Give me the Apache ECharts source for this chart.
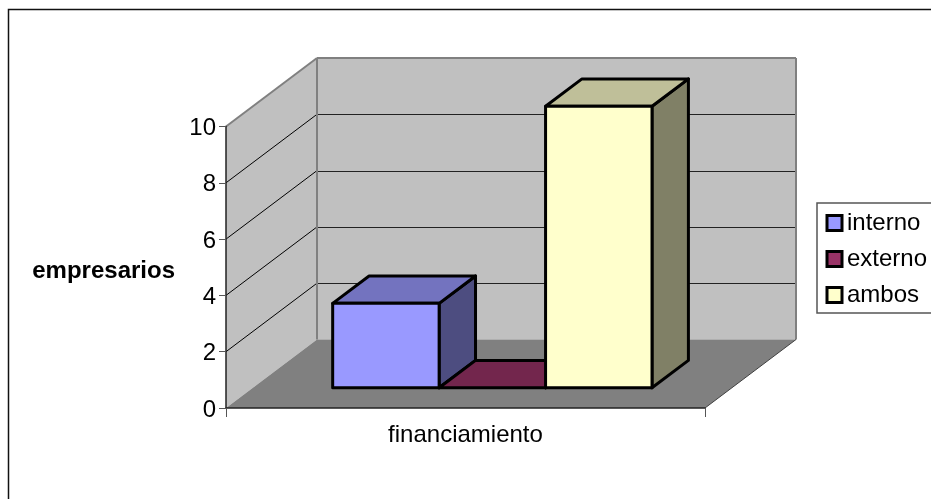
<!DOCTYPE html>
<html lang="en">
<head>
    <meta charset="UTF-8">
    <script src="https://cdn.jsdelivr.net/npm/echarts@6/dist/echarts.min.js"></script>
    <title>financiamiento</title>
</head>
<style>
    body{
        margin: 0;
        padding: 0;
        background: #fff;
        overflow: hidden;
    }
</style>
<body>
<div id="chart" style="width: 931px;height:499px"></div>
</body>
<script>
    var categories = ['financiamiento'];
    var seriesNames = ['interno', 'externo', 'ambos'];
    var interno = [3];
    var externo = [0];
    var ambos = [10];
    var yTicks = [0, 2, 4, 6, 8, 10];

    // offsets of the fake 3d box, in pixels
    var DEPTH = [91, -68.5];
    var BAR_FRONT = 0.295;   // where the bar front sits inside the depth
    var BAR_DEPTH = 0.40;
    var BAR_BAND = 1 / 4.5;

    var faces = {
        interno: {front: '#9999ff', top: '#7373bf', side: '#4d4d80'},
        externo: {front: '#993366', top: '#73264d', side: '#4d1a33'},
        ambos: {front: '#ffffcc', top: '#bfbf99', side: '#808066'}
    };

    function poly(points, fill, stroke, lineWidth) {
        return {
            type: 'polygon',
            shape: {points: points},
            style: {fill: fill, stroke: stroke || null, lineWidth: lineWidth || 0, lineJoin: 'round'}
        };
    }

    function line(a, b, color, width) {
        return {
            type: 'line',
            shape: {x1: a[0], y1: a[1], x2: b[0], y2: b[1]},
            style: {stroke: color, lineWidth: width}
        };
    }

    function shift(p, k) {
        return [p[0] + DEPTH[0] * k, p[1] + DEPTH[1] * k];
    }

    // walls, floor and grid lines
    function renderWalls(params, api) {
        var band = api.size([1, 0])[0];
        var c = api.coord([0, 0]);
        var x0 = c[0] - band / 2;
        var x1 = c[0] + band / 2;
        var top = api.coord([0, yTicks[yTicks.length - 1]])[1];
        var fl = [x0, c[1]], fr = [x1, c[1]], tl = [x0, top];
        var backTop = shift(tl, 1);
        var backRight = [backTop[0] + band, backTop[1]];
        var children = [
            poly([fl, tl, backTop, shift(fl, 1)], '#c0c0c0'),
            poly([shift(fl, 1), backTop, backRight, shift(fr, 1)], '#c0c0c0'),
            poly([fl, fr, shift(fr, 1), shift(fl, 1)], '#808080')
        ];
        for (var i = 1; i < yTicks.length - 1; i++) {
            var y = api.coord([0, yTicks[i]])[1];
            var back = shift([x0, y], 1);
            children.push(line([x0, y], back, '#000', 1));
            // keep the back wall lines on a whole pixel
            var by = Math.round(back[1]) + 0.5;
            children.push(line([back[0], by], [back[0] + band, by], '#222', 1));
        }
        children.push(line(tl, backTop, '#808080', 2));
        children.push(line(backTop, backRight, '#808080', 2));
        children.push(line(backTop, shift(fl, 1), '#808080', 2));
        children.push(line(backRight, shift(fr, 1), '#808080', 2));
        children.push(line(fr, shift(fr, 1), '#404040', 1));
        return {type: 'group', children: children};
    }

    function renderBar(index, name) {
        return function (params, api) {
            var band = api.size([1, 0])[0];
            var c = api.coord([api.value(0), 0]);
            var t = api.coord([api.value(0), api.value(1)]);
            var w = band * BAR_BAND;
            var left = c[0] - w * 1.5 + w * index;
            var a = shift([left, c[1]], BAR_FRONT);
            var b = shift([left + w, c[1]], BAR_FRONT);
            var d = shift([left + w, t[1]], BAR_FRONT);
            var e = shift([left, t[1]], BAR_FRONT);
            var f = faces[name];
            var kids = [
                poly([b, d, shift(d, BAR_DEPTH), shift(b, BAR_DEPTH)], f.side, '#000', 3),
                poly([e, d, shift(d, BAR_DEPTH), shift(e, BAR_DEPTH)], f.top, '#000', 3)
            ];
            if (api.value(1) > 0) {
                kids.push(poly([a, b, d, e], f.front, '#000', 3));
            }
            return {type: 'group', children: kids};
        };
    }

    function barSeries(name, index, values) {
        return {
            name: name,
            type: 'custom',
            z: 3 + index,
            itemStyle: {color: faces[name].front},
            renderItem: renderBar(index, name),
            data: values.map(function (v, i) { return [i, v]; }),
            encode: {x: 0, y: 1}
        };
    }

    var chart = echarts.init(document.getElementById('chart'));
    var font = 'Liberation Sans';
    var option = {
        animation: false,
        graphic: [{
            type: 'rect',
            shape: {x: 8.5, y: 9.5, width: 940, height: 510},
            style: {fill: null, stroke: '#111', lineWidth: 1.5}
        }],
        grid: {left: 226, top: 126.5, width: 479, height: 281.5, outerBoundsMode: 'none'},
        legend: {
            data: seriesNames,
            orient: 'vertical',
            left: 817,
            top: 203,
            padding: [8, 40, 6, 8.5],
            itemGap: 12,
            itemWidth: 15,
            itemHeight: 15,
            icon: 'rect',
            itemStyle: {borderColor: '#000', borderWidth: 3},
            borderColor: '#555',
            borderWidth: 1.5,
            textStyle: {fontFamily: font, fontSize: 24, color: '#000'}
        },
        xAxis: {
            type: 'category',
            data: categories,
            z: 6,
            axisLine: {lineStyle: {color: '#222', width: 1.5}},
            axisTick: {show: true, length: 9, lineStyle: {color: '#555', width: 1}},
            axisLabel: {fontFamily: font, fontSize: 24, color: '#000', margin: 15}
        },
        yAxis: {
            type: 'value',
            min: 0,
            max: 10,
            interval: 2,
            z: 6,
            name: '{n|empresarios}',
            nameLocation: 'middle',
            nameRotate: 0,
            nameGap: 51,
            nameMoveOverlap: false,
            nameTextStyle: {
                rich: {n: {fontFamily: font, fontSize: 24, fontWeight: 'bold', color: '#000', padding: [8, 0, 0, 0]}}
            },
            splitLine: {show: false},
            axisLine: {show: true, lineStyle: {color: '#222', width: 1.5}},
            axisTick: {show: true, length: 7, lineStyle: {color: '#555', width: 1}},
            axisLabel: {
                margin: 10,
                formatter: '{t|{value}}',
                rich: {t: {fontFamily: font, fontSize: 24, color: '#000', padding: [4, 0, 0, 0]}}
            }
        },
        series: [{
            type: 'custom',
            name: 'walls',
            z: 1,
            silent: true,
            renderItem: renderWalls,
            data: [[0, 0]],
            encode: {x: 0, y: 1}
        }, barSeries('interno', 0, interno), barSeries('externo', 1, externo), barSeries('ambos', 2, ambos)]
    };
    chart.setOption(option);
</script>
</html>
